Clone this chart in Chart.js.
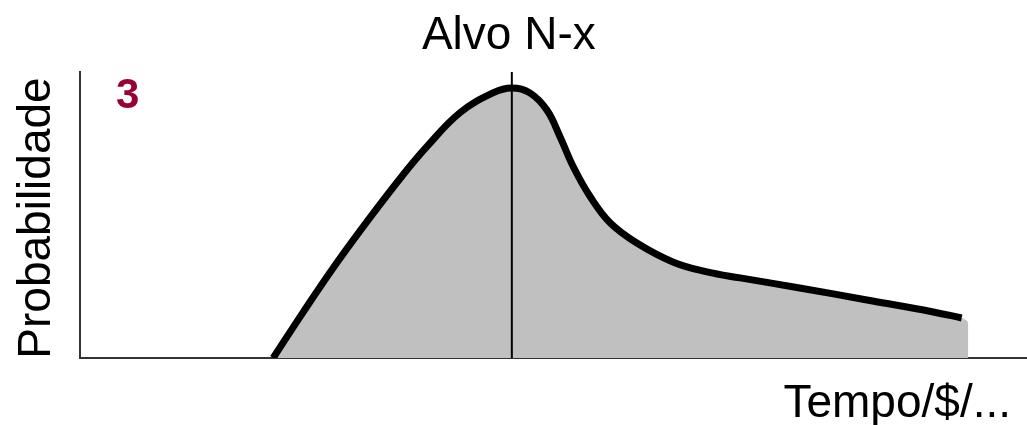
<!DOCTYPE html>
<html>
<head>
<meta charset="utf-8">
<script src="https://cdn.jsdelivr.net/npm/chart.js@4/dist/chart.umd.min.js"></script>
<style>
    html, body { margin: 0; padding: 0; background: #fff; }
    #wrap { position: relative; width: 1027px; height: 425px; }
</style>
</head>
<body>
<div id="wrap"><canvas id="chart"></canvas></div>
<script>
// curve (x: time/cost, y: probability, both 0..100)
const curveX = [20.4, 23.5, 27.1, 30.6, 34.1, 36.6, 40.1, 43.6, 45.6, 47.5, 49.3, 50.7, 52.1, 53.9, 56.0, 58.8, 62.6, 66.2, 69.7, 76.0, 83.1, 90.1, 93.1];
const curveY = [0, 15.7, 33.2, 49.0, 64.0, 73.8, 85.7, 92.7, 94.4, 92.7, 86.7, 77.3, 66.8, 56.3, 47.2, 40.2, 33.6, 30.1, 28.0, 24.5, 20.3, 16.1, 14.0];
const targetX = 45.6;
const targetTop = 100.3;
const fillEndX = 93.8;

const titleText = "Alvo N-x";
const yLabel = "Probabilidade";
const xLabel = "Tempo/$/...";
const panelNo = "3";

const curve = curveX.map((x, i) => ({ x: x, y: curveY[i] }));
const area = curve.concat([{ x: fillEndX, y: 12.0 }, { x: fillEndX, y: 0 }]);

const textPlugin = {
    id: "texts",
    afterDraw(chart) {
        const ctx = chart.ctx;
        const xs = chart.scales.x;
        ctx.save();
        ctx.fillStyle = "#000";
        ctx.font = "46px 'Liberation Sans', Arial, sans-serif";
        ctx.textAlign = "center";
        ctx.textBaseline = "alphabetic";
        ctx.fillText(titleText, xs.getPixelForValue(targetX) - 3, 49);
        ctx.textAlign = "right";
        ctx.fillText(xLabel, 1011, 417);
        ctx.save();
        ctx.translate(50, 218);
        ctx.rotate(-Math.PI / 2);
        ctx.textAlign = "center";
        ctx.fillText(yLabel, 0, 0);
        ctx.restore();
        ctx.fillStyle = "#990033";
        ctx.font = "bold 42px 'Liberation Sans', Arial, sans-serif";
        ctx.textAlign = "left";
        ctx.fillText(panelNo, 116, 108);
        ctx.restore();
    }
};

new Chart(document.getElementById("chart"), {
    type: "scatter",
    data: {
        datasets: [
            {
                data: [{ x: targetX, y: 0 }, { x: targetX, y: targetTop }],
                showLine: true,
                borderColor: "#000",
                borderWidth: 2,
                pointRadius: 0,
                order: 0
            },
            {
                data: curve,
                showLine: true,
                borderColor: "#000",
                borderWidth: 7,
                borderCapStyle: "butt",
                borderJoinStyle: "round",
                tension: 0.4,
                pointRadius: 0,
                fill: false,
                order: 1
            },
            {
                data: area,
                showLine: true,
                borderWidth: 0,
                borderColor: "rgba(0,0,0,0)",
                backgroundColor: "#c0c0c0",
                tension: 0.4,
                pointRadius: 0,
                fill: "origin",
                order: 2
            }
        ]
    },
    options: {
        responsive: true,
        maintainAspectRatio: false,
        animation: false,
        events: [],
        layout: { padding: { left: 80, right: 0, top: 72, bottom: 67 } },
        plugins: { legend: { display: false }, tooltip: { enabled: false } },
        scales: {
            x: {
                type: "linear",
                min: 0, max: 100,
                ticks: { display: false },
                grid: { display: false, drawTicks: false },
                border: { display: true, color: "#333", width: 2 }
            },
            y: {
                min: 0, max: 100,
                ticks: { display: false },
                grid: { display: false, drawTicks: false },
                border: { display: true, color: "#333", width: 2 }
            }
        }
    },
    plugins: [textPlugin]
});
</script>
</body>
</html>
